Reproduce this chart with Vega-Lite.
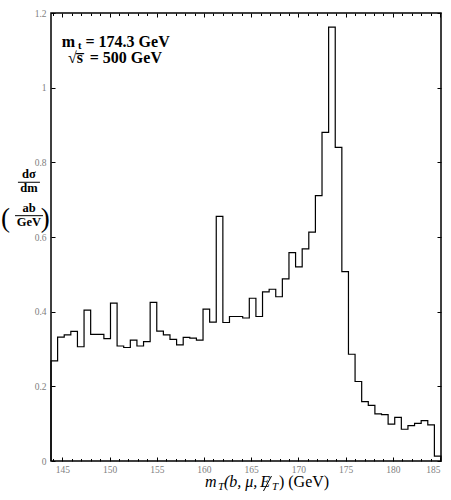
{
  "$schema": "https://vega.github.io/schema/vega-lite/v6.json",
  "width": 390,
  "height": 448,
  "autosize": "none",
  "padding": {"left": 51, "top": 13, "right": 10, "bottom": 39},
  "background": "white",
  "config": {
    "view": {"stroke": "black", "strokeWidth": 1.5},
    "axis": {"grid": false, "domain": false, "labelFont": "Liberation Serif", "labelFontSize": 9.5, "labelColor": "#808080", "tickColor": "black", "tickWidth": 1, "title": null}
  },
  "datasets": {
    "hist": [
      {"m": 143.8, "v": 0},
      {"m": 143.8, "v": 0.268}, {"m": 144.5, "v": 0.332}, {"m": 145.2, "v": 0.338}, {"m": 145.9, "v": 0.347},
      {"m": 146.6, "v": 0.306}, {"m": 147.3, "v": 0.404}, {"m": 148.0, "v": 0.339}, {"m": 148.7, "v": 0.339},
      {"m": 149.4, "v": 0.328}, {"m": 150.1, "v": 0.423}, {"m": 150.8, "v": 0.308}, {"m": 151.5, "v": 0.304},
      {"m": 152.2, "v": 0.324}, {"m": 152.9, "v": 0.308}, {"m": 153.6, "v": 0.320}, {"m": 154.3, "v": 0.425},
      {"m": 155.0, "v": 0.348}, {"m": 155.7, "v": 0.338}, {"m": 156.4, "v": 0.326}, {"m": 157.1, "v": 0.311},
      {"m": 157.8, "v": 0.331}, {"m": 158.5, "v": 0.329}, {"m": 159.2, "v": 0.324}, {"m": 159.9, "v": 0.407},
      {"m": 160.6, "v": 0.372}, {"m": 161.3, "v": 0.655}, {"m": 162.0, "v": 0.371}, {"m": 162.7, "v": 0.387},
      {"m": 163.4, "v": 0.387}, {"m": 164.1, "v": 0.383}, {"m": 164.8, "v": 0.436}, {"m": 165.5, "v": 0.387},
      {"m": 166.2, "v": 0.453}, {"m": 166.9, "v": 0.460}, {"m": 167.6, "v": 0.440}, {"m": 168.3, "v": 0.488},
      {"m": 169.0, "v": 0.558}, {"m": 169.7, "v": 0.520}, {"m": 170.4, "v": 0.568}, {"m": 171.1, "v": 0.613},
      {"m": 171.8, "v": 0.711}, {"m": 172.5, "v": 0.880}, {"m": 173.2, "v": 1.162}, {"m": 173.9, "v": 0.840},
      {"m": 174.6, "v": 0.507}, {"m": 175.3, "v": 0.286}, {"m": 176.0, "v": 0.213}, {"m": 176.7, "v": 0.159},
      {"m": 177.4, "v": 0.149}, {"m": 178.1, "v": 0.126}, {"m": 178.8, "v": 0.124}, {"m": 179.5, "v": 0.099},
      {"m": 180.2, "v": 0.117}, {"m": 180.9, "v": 0.085}, {"m": 181.6, "v": 0.095}, {"m": 182.3, "v": 0.101},
      {"m": 183.0, "v": 0.108}, {"m": 183.7, "v": 0.097}, {"m": 184.4, "v": 0.013},
      {"m": 185.1, "v": 0}
    ],
    "annBold": [
      {"x": 144.93, "y": 1.1098, "t": "m"},
      {"x": 147.45, "y": 1.1098, "t": "= 174.3 GeV"},
      {"x": 145.6, "y": 1.0654, "t": "√s̅"},
      {"x": 147.9, "y": 1.0654, "t": "= 500 GeV"}
    ],
    "annSub": [
      {"x": 146.66, "y": 1.1037, "t": "t"}
    ],
    "ylab": [
      {"x": 141.47, "y": 0.758, "t": "dσ"},
      {"x": 141.47, "y": 0.7214, "t": "dm"},
      {"x": 141.47, "y": 0.6657, "t": "ab"},
      {"x": 141.47, "y": 0.6282, "t": "GeV"}
    ],
    "paren": [
      {"x": 138.98, "y": 0.6483, "t": "("},
      {"x": 143.2, "y": 0.6483, "t": ")"}
    ],
    "bars": [
      {"x": 140.3, "x2": 142.63, "y": 0.7466},
      {"x": 139.99, "x2": 142.95, "y": 0.6571}
    ],
    "slash": [
      {"x": 166.3, "x2": 167.15, "y": -0.0804, "y2": -0.0402}
    ],
    "xtItal": [
      {"x": 160.11, "y": -0.0696, "t": "m"},
      {"x": 162.12, "y": -0.0696, "t": "(b, μ, "},
      {"x": 165.96, "y": -0.0696, "t": "E"}
    ],
    "xtSub": [
      {"x": 161.49, "y": -0.079, "t": "T"},
      {"x": 167.2, "y": -0.079, "t": "T"}
    ],
    "xtRoman": [
      {"x": 167.94, "y": -0.0696, "t": ") (GeV)"}
    ]
  },
  "layer": [
    {
      "data": {"name": "hist"},
      "mark": {"type": "line", "interpolate": "step-after", "stroke": "black", "strokeWidth": 1.2},
      "encoding": {
        "x": {"field": "m", "type": "quantitative", "scale": {"domain": [143.8, 185.1], "nice": false, "zero": false},
              "axis": {"orient": "bottom", "values": [145, 150, 155, 160, 165, 170, 175, 180, 185], "tickSize": -4, "labelPadding": 7}},
        "y": {"field": "v", "type": "quantitative", "scale": {"domain": [0, 1.2], "nice": false},
              "axis": {"orient": "left", "values": [0, 0.2, 0.4, 0.6, 0.8, 1, 1.2], "tickSize": -4, "labelPadding": 9,
                       "labelExpr": "replace(format(datum.value, '.1f'), '.0', '')"}}
      }
    },
    {
      "data": {"name": "hist"},
      "mark": {"type": "line", "opacity": 0},
      "encoding": {
        "x": {"field": "m", "type": "quantitative",
              "axis": {"orient": "bottom", "values": [144,146,147,148,149,151,152,153,154,156,157,158,159,161,162,163,164,166,167,168,169,171,172,173,174,176,177,178,179,181,182,183,184], "tickSize": -2.5, "labels": false}},
        "y": {"field": "v", "type": "quantitative",
              "axis": {"orient": "right", "values": [0, 0.2, 0.4, 0.6, 0.8, 1, 1.2], "tickSize": -4, "labels": false}}
      }
    },
    {
      "data": {"name": "hist"},
      "mark": {"type": "line", "opacity": 0},
      "encoding": {
        "x": {"field": "m", "type": "quantitative",
              "axis": {"orient": "top", "values": [145, 150, 155, 160, 165, 170, 175, 180, 185], "tickSize": -4, "labels": false}},
        "y": {"field": "v", "type": "quantitative", "axis": null}
      }
    },
    {
      "data": {"name": "hist"},
      "mark": {"type": "line", "opacity": 0},
      "encoding": {
        "x": {"field": "m", "type": "quantitative",
              "axis": {"orient": "top", "values": [144,146,147,148,149,151,152,153,154,156,157,158,159,161,162,163,164,166,167,168,169,171,172,173,174,176,177,178,179,181,182,183,184], "tickSize": -2.5, "labels": false}},
        "y": {"field": "v", "type": "quantitative", "axis": null}
      }
    },
    {
      "data": {"name": "annBold"},
      "mark": {"type": "text", "align": "left", "baseline": "alphabetic", "font": "Liberation Serif", "fontWeight": "bold", "fontSize": 16, "color": "black"},
      "encoding": {
        "x": {"field": "x", "type": "quantitative", "axis": null},
        "y": {"field": "y", "type": "quantitative", "axis": null},
        "text": {"field": "t"}
      }
    },
    {
      "data": {"name": "annSub"},
      "mark": {"type": "text", "align": "left", "baseline": "alphabetic", "font": "Liberation Serif", "fontWeight": "bold", "fontSize": 10.5, "color": "black"},
      "encoding": {
        "x": {"field": "x", "type": "quantitative", "axis": null},
        "y": {"field": "y", "type": "quantitative", "axis": null},
        "text": {"field": "t"}
      }
    },
    {
      "data": {"name": "ylab"},
      "mark": {"type": "text", "align": "center", "baseline": "alphabetic", "font": "Liberation Serif", "fontWeight": "bold", "fontSize": 12.5, "color": "black"},
      "encoding": {
        "x": {"field": "x", "type": "quantitative", "axis": null},
        "y": {"field": "y", "type": "quantitative", "axis": null},
        "text": {"field": "t"}
      }
    },
    {
      "data": {"name": "paren"},
      "mark": {"type": "text", "align": "center", "baseline": "middle", "font": "Liberation Serif", "fontSize": 27, "color": "black"},
      "encoding": {
        "x": {"field": "x", "type": "quantitative", "axis": null},
        "y": {"field": "y", "type": "quantitative", "axis": null},
        "text": {"field": "t"}
      }
    },
    {
      "data": {"name": "bars"},
      "mark": {"type": "rule", "stroke": "black", "strokeWidth": 1},
      "encoding": {
        "x": {"field": "x", "type": "quantitative", "axis": null},
        "x2": {"field": "x2"},
        "y": {"field": "y", "type": "quantitative", "axis": null}
      }
    },
    {
      "data": {"name": "slash"},
      "mark": {"type": "rule", "stroke": "black", "strokeWidth": 1},
      "encoding": {
        "x": {"field": "x", "type": "quantitative", "axis": null},
        "x2": {"field": "x2"},
        "y": {"field": "y", "type": "quantitative", "axis": null},
        "y2": {"field": "y2"}
      }
    },
    {
      "data": {"name": "xtItal"},
      "mark": {"type": "text", "align": "left", "baseline": "alphabetic", "font": "Liberation Serif", "fontStyle": "italic", "fontSize": 16, "color": "black"},
      "encoding": {
        "x": {"field": "x", "type": "quantitative", "axis": null},
        "y": {"field": "y", "type": "quantitative", "axis": null},
        "text": {"field": "t"}
      }
    },
    {
      "data": {"name": "xtSub"},
      "mark": {"type": "text", "align": "left", "baseline": "alphabetic", "font": "Liberation Serif", "fontStyle": "italic", "fontSize": 11, "color": "black"},
      "encoding": {
        "x": {"field": "x", "type": "quantitative", "axis": null},
        "y": {"field": "y", "type": "quantitative", "axis": null},
        "text": {"field": "t"}
      }
    },
    {
      "data": {"name": "xtRoman"},
      "mark": {"type": "text", "align": "left", "baseline": "alphabetic", "font": "Liberation Serif", "fontSize": 16, "color": "black"},
      "encoding": {
        "x": {"field": "x", "type": "quantitative", "axis": null},
        "y": {"field": "y", "type": "quantitative", "axis": null},
        "text": {"field": "t"}
      }
    }
  ],
  "resolve": {"axis": {"x": "independent", "y": "independent"}}
}
